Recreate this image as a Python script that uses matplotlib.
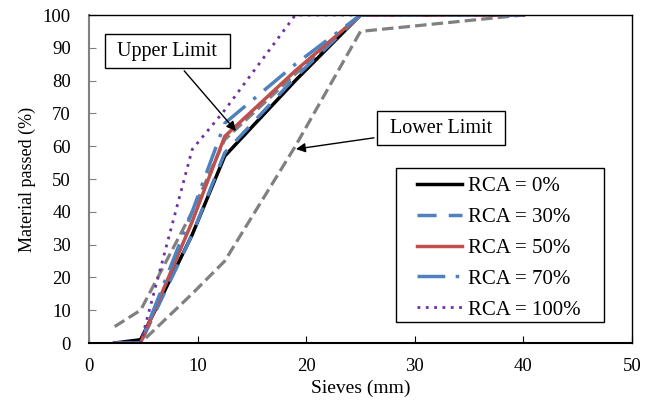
import numpy as np
import matplotlib.pyplot as plt
from matplotlib.patches import Rectangle

plt.rcParams['font.family'] = ['Liberation Serif', 'DejaVu Serif']

# Sieve sizes (mm)
sieves = [2.36, 4.75, 9.5, 12.5, 19, 25, 40]

# Material passed (%)
upper_limit = [5, 10, 40, 62, 82, 100, 100]
lower_limit = [0, 0, 15, 25, 60, 95, 100]
rca0 = [0, 1, 33, 57, 80, 100, 100]
rca30 = [0, 0, 33, 58, 81, 100, 100]
rca50 = [0, 0, 37, 63, 83, 100, 100]
rca70 = [0, 0, 40, 67, 85, 100, 100]
rca100 = [0, 0, 59, 71, 100, 100, 100]

fig = plt.figure(figsize=(6.58, 4.03), dpi=100)
ax = fig.add_axes([89/658, 60/403, 543/658, 328/403])

gray = '#808080'
ax.plot(sieves, upper_limit, color=gray, ls=(0, (3.6, 1.6)), lw=2.3)
ax.plot(sieves, lower_limit, color=gray, ls=(0, (3.6, 1.6)), lw=2.3)
ax.plot(sieves, rca0, color='black', lw=2.5, label='RCA = 0%')
ax.plot(sieves, rca30, color='#4F81BD', ls=(0, (5.5, 3.5)), lw=2.5, label='RCA = 30%')
ax.plot(sieves, rca50, color='#C0504D', lw=2.5, label='RCA = 50%')
ax.plot(sieves, rca70, color='#4F81BD', ls=(0, (8, 3, 1, 3)), lw=2.5, label='RCA = 70%')
ax.plot(sieves, rca100, color='#7030A0', ls=(0, (1, 2)), lw=2, label='RCA = 100%')

ax.set_xlim(0, 50)
ax.set_ylim(0, 100)
ax.set_xticks(np.arange(0, 51, 10))
ax.set_yticks(np.arange(0, 101, 10))
ax.tick_params(direction='in', length=5, labelsize=13.5, colors='black')
ax.tick_params(axis='y', color=gray, pad=13)
ax.tick_params(axis='x', pad=11)
ax.spines['left'].set_color(gray)
ax.spines['left'].set_linewidth(1.5)
ax.spines['bottom'].set_linewidth(1.5)
ax.spines['top'].set_linewidth(1)
ax.spines['right'].set_linewidth(1)

ax.set_xlabel('Sieves (mm)', fontsize=14, labelpad=3)
ax.set_ylabel('Material passed (%)', fontsize=13, labelpad=5)

box = dict(boxstyle='square,pad=0.38', fc='white', ec='black', lw=1)
arrow = dict(arrowstyle='-|>', color='black', lw=1, mutation_scale=14)
ax.annotate(' Upper Limit ', xy=(13.7, 64), xytext=(7.2, 89.0),
            fontsize=14.5, ha='center', va='center', bbox=box, arrowprops=arrow)
ax.annotate(' Lower Limit ', xy=(18.8, 59), xytext=(32.4, 65.5),
            fontsize=14.5, ha='center', va='center', bbox=box, arrowprops=arrow)

# legend: frame drawn separately so the side padding can be wider than top/bottom
ax.add_patch(Rectangle((0.5654, 0.064), 0.383, 0.4695, transform=ax.transAxes,
                       fc='white', ec='black', lw=1, zorder=4))
leg = ax.legend(loc='upper left', bbox_to_anchor=(0.604, 0.507), fontsize=15,
                frameon=False, handlelength=2.15, labelspacing=0.54,
                borderpad=0, borderaxespad=0, handletextpad=0.3)
leg.set_zorder(5)

fig.savefig('out.png', dpi=100)
